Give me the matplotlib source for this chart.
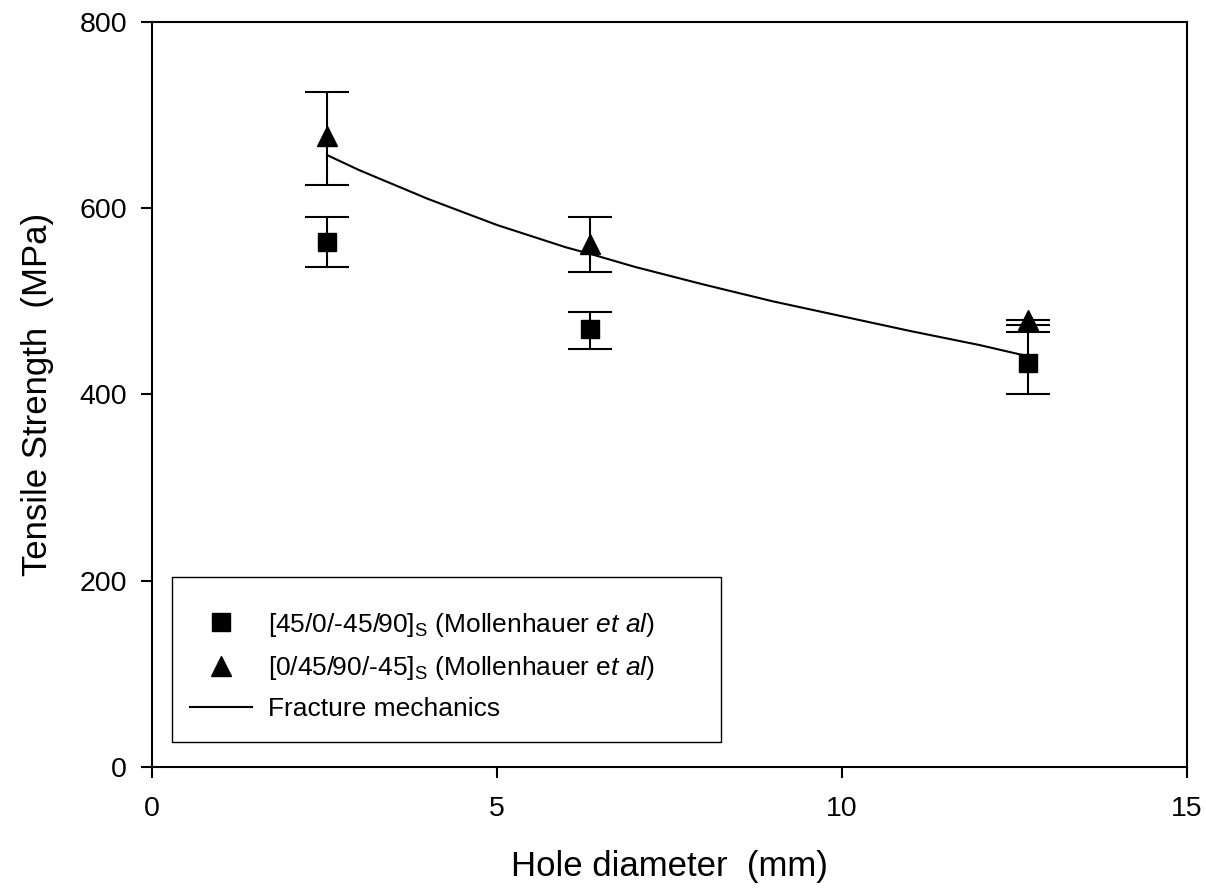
import matplotlib
matplotlib.use("Agg")
import matplotlib.pyplot as plt
from matplotlib.patches import Rectangle

plt.rcParams['font.family'] = ['Liberation Sans', 'DejaVu Sans']
plt.rcParams['mathtext.fontset'] = 'custom'
plt.rcParams['mathtext.rm'] = 'Liberation Sans'
plt.rcParams['mathtext.it'] = 'Liberation Sans:italic'
plt.rcParams['mathtext.bf'] = 'Liberation Sans:bold'

# Data
hole_d = [2.54, 6.35, 12.7]
sq_strength = [564, 470, 434]
sq_err_lo = [27, 21, 34]
sq_err_hi = [27, 19, 33]
tri_strength = [677, 562, 480]
tri_err_lo = [52, 30, 5]
tri_err_hi = [48, 29, 0]
fm_d = [2.54, 3, 4, 5, 6, 6.35, 7, 8, 9, 10, 11, 12, 12.7]
fm_strength = [657, 641, 610, 582, 558, 551, 537, 518, 500, 484, 468, 453, 441]

fig = plt.figure(figsize=(12.06, 8.88), dpi=100)
ax = fig.add_axes([0.126, 0.1363, 0.858, 0.8390])

ax.errorbar(hole_d, sq_strength, yerr=[sq_err_lo, sq_err_hi], fmt='none',
            ecolor='black', elinewidth=1.5, capsize=16, capthick=1.5, zorder=2)
ax.errorbar(hole_d, tri_strength, yerr=[tri_err_lo, tri_err_hi], fmt='none',
            ecolor='black', elinewidth=1.5, capsize=16, capthick=1.5, zorder=2)
ax.plot(fm_d, fm_strength, color='black', lw=1.5, zorder=3,
        label='Fracture mechanics')
ax.plot(hole_d, sq_strength, 's', color='black', ms=13, ls='none', zorder=4,
        label=r'[45/0/-45/90]$_\mathrm{S}$ (Mollenhauer $\it{et\ al}$)')
ax.plot(hole_d, tri_strength, '^', color='black', ms=14, ls='none', zorder=4,
        label=r'[0/45/90/-45]$_\mathrm{S}$ (Mollenhauer e$\it{t\ al}$)')

ax.set_xlim(0, 15)
ax.set_ylim(0, 800)
ax.set_xticks([0, 5, 10, 15])
ax.set_yticks([0, 200, 400, 600, 800])
ax.tick_params(direction='out', length=8, width=1.5, labelsize=20.5,
               top=False, right=False)
ax.tick_params(axis='x', pad=13)
ax.tick_params(axis='y', pad=10)
for s in ax.spines.values():
    s.set_linewidth(1.5)

ax.set_xlabel('Hole diameter  (mm)', fontsize=25)
ax.set_ylabel('Tensile Strength  (MPa)', fontsize=25)
ax.xaxis.set_label_coords(0.5, -0.134)
ax.xaxis.label.set_va('center')
ax.yaxis.set_label_coords(-0.111, 0.5)
ax.yaxis.label.set_va('center')

# Legend box
ax.add_patch(Rectangle((0.0193, 0.0336), 0.531, 0.221, transform=ax.transAxes,
                       fill=False, edgecolor='black', lw=1.0, zorder=5))

handles, labels = ax.get_legend_handles_labels()
order = [1, 2, 0]
leg = ax.legend([handles[i] for i in order], [labels[i] for i in order],
                loc='upper left', bbox_to_anchor=(0.0367, 0.210),
                fontsize=19, frameon=False, handlelength=2.35,
                handletextpad=0.6, borderaxespad=0, borderpad=0,
                labelspacing=0.58)

fig.savefig('out.png', dpi=100)
